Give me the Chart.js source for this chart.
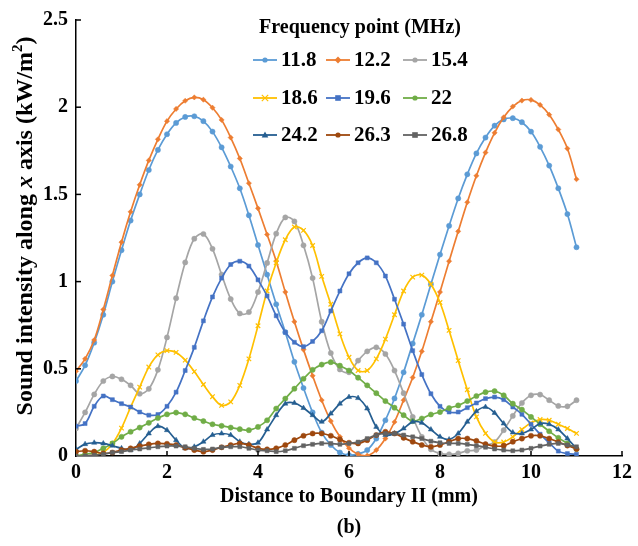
<!DOCTYPE html>
<html>
<head>
<meta charset="utf-8">
<script src="https://cdn.jsdelivr.net/npm/chart.js@4.4.1/dist/chart.umd.min.js"></script>
<style>
html,body{margin:0;padding:0;background:#fff;}
#wrap{width:638px;height:546px;position:relative;}
</style>
</head>
<body>
<div id="wrap"><canvas id="c" width="638" height="546"></canvas></div>
<script>
// Distance to Boundary II (mm)
const distance = [0,0.2,0.4,0.6,0.8,1,1.2,1.4,1.6,1.8,2,2.2,2.4,2.6,2.8,3,3.2,3.4,3.6,3.8,4,4.2,4.4,4.6,4.8,5,5.2,5.4,5.6,5.8,6,6.2,6.4,6.6,6.8,7,7.2,7.4,7.6,7.8,8,8.2,8.4,8.6,8.8,9,9.2,9.4,9.6,9.8,10,10.2,10.4,10.6,10.8,11];

// Frequency points (MHz)
const frequencies = ["11.8","12.2","15.4","18.6","19.6","22","24.2","26.3","26.8"];

// Sound intensity along x axis (kW/m^2)
const f118 = [0.43,0.52,0.65,0.81,1.00,1.18,1.35,1.50,1.64,1.755,1.845,1.91,1.944,1.948,1.92,1.86,1.77,1.66,1.535,1.38,1.21,1.04,0.87,0.71,0.54,0.39,0.25,0.134,0.063,0.02,0.005,0.012,0.034,0.10,0.205,0.33,0.48,0.645,0.81,0.985,1.155,1.32,1.477,1.615,1.735,1.826,1.894,1.93,1.937,1.914,1.86,1.773,1.665,1.535,1.387,1.197];
const f122 = [0.486,0.557,0.665,0.84,1.035,1.226,1.40,1.555,1.695,1.816,1.92,1.99,2.037,2.056,2.043,1.997,1.927,1.826,1.706,1.564,1.42,1.27,1.117,0.94,0.77,0.61,0.46,0.32,0.20,0.11,0.045,0.01,0.002,0.034,0.10,0.195,0.32,0.45,0.60,0.77,0.94,1.117,1.288,1.455,1.607,1.74,1.853,1.942,2.004,2.038,2.042,2.013,1.957,1.872,1.763,1.587];
const f154 = [0.158,0.25,0.353,0.43,0.456,0.44,0.405,0.357,0.385,0.494,0.68,0.905,1.11,1.246,1.273,1.188,1.04,0.90,0.817,0.825,0.94,1.107,1.275,1.368,1.345,1.208,1.02,0.77,0.59,0.496,0.48,0.547,0.60,0.623,0.585,0.49,0.36,0.224,0.11,0.038,0.015,0.01,0.015,0.03,0.034,0.06,0.08,0.148,0.23,0.304,0.348,0.352,0.32,0.287,0.285,0.32];
const f186 = [0.0,0.0,0.005,0.02,0.07,0.16,0.28,0.395,0.51,0.58,0.604,0.594,0.55,0.484,0.41,0.34,0.29,0.31,0.405,0.557,0.747,0.946,1.108,1.24,1.313,1.294,1.207,1.03,0.87,0.70,0.566,0.49,0.49,0.557,0.67,0.81,0.946,1.026,1.037,0.985,0.88,0.72,0.547,0.38,0.224,0.13,0.08,0.08,0.11,0.152,0.19,0.209,0.205,0.182,0.158,0.13];
const f196 = [0.171,0.186,0.285,0.344,0.323,0.30,0.281,0.252,0.234,0.238,0.285,0.366,0.49,0.623,0.775,0.912,1.02,1.098,1.117,1.089,1.01,0.918,0.804,0.709,0.652,0.627,0.657,0.718,0.832,0.946,1.045,1.108,1.136,1.108,1.032,0.899,0.756,0.604,0.467,0.357,0.285,0.252,0.252,0.277,0.304,0.329,0.338,0.323,0.281,0.239,0.182,0.125,0.076,0.028,0.014,0.01];
const f22  = [0.0,0.01,0.02,0.044,0.072,0.11,0.139,0.163,0.19,0.218,0.239,0.249,0.239,0.218,0.20,0.182,0.173,0.163,0.154,0.148,0.167,0.205,0.272,0.329,0.386,0.443,0.494,0.524,0.538,0.518,0.49,0.449,0.405,0.36,0.315,0.277,0.234,0.2,0.215,0.238,0.252,0.275,0.29,0.315,0.344,0.366,0.372,0.348,0.30,0.266,0.224,0.182,0.142,0.104,0.072,0.04];
const f242 = [0.038,0.068,0.076,0.072,0.059,0.044,0.034,0.072,0.129,0.171,0.148,0.091,0.044,0.053,0.082,0.12,0.129,0.12,0.082,0.068,0.076,0.152,0.234,0.30,0.304,0.275,0.234,0.196,0.243,0.30,0.338,0.332,0.272,0.167,0.12,0.129,0.158,0.196,0.19,0.152,0.11,0.095,0.129,0.196,0.256,0.281,0.247,0.186,0.135,0.129,0.152,0.186,0.182,0.152,0.10,0.044];
const f263 = [0.025,0.03,0.025,0.015,0.02,0.034,0.044,0.057,0.067,0.072,0.07,0.063,0.047,0.034,0.025,0.034,0.05,0.063,0.072,0.063,0.044,0.038,0.044,0.063,0.091,0.116,0.129,0.129,0.116,0.095,0.076,0.072,0.091,0.12,0.139,0.129,0.104,0.082,0.063,0.053,0.063,0.082,0.10,0.10,0.087,0.068,0.057,0.059,0.082,0.10,0.116,0.116,0.10,0.08,0.06,0.04];
const f268 = [0.0,0.0,0.005,0.01,0.02,0.025,0.034,0.04,0.047,0.053,0.057,0.057,0.053,0.044,0.038,0.04,0.05,0.053,0.053,0.044,0.034,0.03,0.025,0.03,0.044,0.059,0.067,0.072,0.072,0.067,0.072,0.08,0.10,0.12,0.129,0.129,0.12,0.11,0.10,0.085,0.076,0.072,0.072,0.067,0.059,0.05,0.04,0.034,0.03,0.034,0.044,0.057,0.067,0.072,0.063,0.053];

const xTicks = [0,2,4,6,8,10,12];
const yTicks = [0,0.5,1,1.5,2,2.5];

const seriesValues = [f118,f122,f154,f186,f196,f22,f242,f263,f268];
const colors = ["#5B9BD5","#ED7D31","#A5A5A5","#FFC000","#4472C4","#70AD47","#255E91","#9E480E","#636363"];
const styles = ["circle","rectRot","circle","crossRot","rect","circle","triangle","circle","rect"];
const radii  = [2.6,2.6,2.6,3.2,2.8,2.6,3.0,2.6,2.8];

const FONT = "'Liberation Serif','Times New Roman',serif";

const datasets = frequencies.map((f,i)=>({
  label: f,
  data: distance.map((x,j)=>({x:x,y:seriesValues[i][j]})),
  borderColor: colors[i],
  backgroundColor: colors[i],
  pointStyle: styles[i],
  pointRadius: radii[i],
  pointBorderWidth: styles[i]==="crossRot"?1.2:0.5,
  pointBorderColor: colors[i],
  pointBackgroundColor: colors[i],
  borderWidth: 1.7,
  tension: 0.35,
  fill: false,
  order: frequencies.length - i
}));

function drawMarker(ctx, style, x, y, r, color){
  ctx.save();
  ctx.fillStyle = color; ctx.strokeStyle = color; ctx.lineWidth = 1.2;
  ctx.beginPath();
  if(style==="circle"){ ctx.arc(x,y,r,0,Math.PI*2); ctx.fill(); }
  else if(style==="rect"){ ctx.fillRect(x-r,y-r,2*r,2*r); }
  else if(style==="rectRot"){ ctx.moveTo(x,y-r*1.3); ctx.lineTo(x+r*1.3,y); ctx.lineTo(x,y+r*1.3); ctx.lineTo(x-r*1.3,y); ctx.closePath(); ctx.fill(); }
  else if(style==="triangle"){ ctx.moveTo(x,y-r*1.2); ctx.lineTo(x+r*1.1,y+r*0.8); ctx.lineTo(x-r*1.1,y+r*0.8); ctx.closePath(); ctx.fill(); }
  else if(style==="crossRot"){ ctx.moveTo(x-r,y-r); ctx.lineTo(x+r,y+r); ctx.moveTo(x+r,y-r); ctx.lineTo(x-r,y+r); ctx.stroke(); }
  ctx.restore();
}

const decorPlugin = {
  id: 'decor',
  afterDraw(chart){
    const ctx = chart.ctx;
    const xs = chart.scales.x, ys = chart.scales.y;
    const area = chart.chartArea;
    ctx.save();
    // inside tick marks
    ctx.strokeStyle = '#000'; ctx.lineWidth = 1.5;
    xTicks.forEach(v=>{ if(v===0) return; const px = xs.getPixelForValue(v); ctx.beginPath(); ctx.moveTo(px, area.bottom); ctx.lineTo(px, area.bottom-5); ctx.stroke(); });
    yTicks.forEach(v=>{ if(v===0) return; const py = ys.getPixelForValue(v); ctx.beginPath(); ctx.moveTo(area.left, py); ctx.lineTo(area.left+5, py); ctx.stroke(); });

    // legend
    ctx.fillStyle = '#000';
    ctx.font = "bold 20px " + FONT;
    ctx.textAlign = 'center'; ctx.textBaseline = 'middle';
    ctx.fillText('Frequency point (MHz)', 360, 28);
    const colX = [253, 326, 403];
    const rowY = [60, 98, 135];
    ctx.font = "bold 21px " + FONT;
    ctx.textAlign = 'left';
    frequencies.forEach((f,i)=>{
      const cx = colX[i%3], cy = rowY[Math.floor(i/3)];
      ctx.strokeStyle = colors[i]; ctx.lineWidth = 1.8;
      ctx.beginPath(); ctx.moveTo(cx, cy); ctx.lineTo(cx+24, cy); ctx.stroke();
      drawMarker(ctx, styles[i], cx+12, cy, radii[i], colors[i]);
      ctx.fillStyle = '#000';
      ctx.fillText(f, cx+28, cy+1);
    });

    // x axis title and caption
    ctx.textAlign = 'center'; ctx.textBaseline = 'middle';
    ctx.font = "bold 20px " + FONT;
    const midX = (area.left + area.right)/2;
    ctx.fillText('Distance to Boundary II (mm)', midX, 497);
    ctx.fillText('(b)', midX, 528);

    // y axis title (rich text)
    const segs = [
      {t:'Sound intensity along ', f:"bold 24px "+FONT, dy:0},
      {t:'x', f:"italic bold 24px "+FONT, dy:0},
      {t:' axis (kW/m', f:"bold 24px "+FONT, dy:0},
      {t:'2', f:"bold 15px "+FONT, dy:-8},
      {t:')', f:"bold 24px "+FONT, dy:0}
    ];
    let total = 0;
    segs.forEach(s=>{ ctx.font = s.f; s.w = ctx.measureText(s.t).width; total += s.w; });
    ctx.translate(26, 226);
    ctx.rotate(-Math.PI/2);
    ctx.textAlign = 'left'; ctx.textBaseline = 'middle';
    let pos = -total/2;
    segs.forEach(s=>{ ctx.font = s.f; ctx.fillText(s.t, pos, s.dy); pos += s.w; });
    ctx.restore();
  }
};

new Chart(document.getElementById('c'), {
  type: 'line',
  data: { datasets: datasets },
  options: {
    responsive: false,
    animation: false,
    devicePixelRatio: 1,
    layout: { padding: { top: 17, right: 16, left: 0, bottom: 0 } },
    plugins: { legend: { display: false }, tooltip: { enabled: false } },
    scales: {
      x: {
        type: 'linear', min: 0, max: 12,
        afterFit(scale){ scale.height = 90; },
        afterBuildTicks(scale){ scale.ticks = xTicks.map(v=>({value:v})); },
        ticks: { color: '#000', font: { family: FONT, size: 20, weight: 'bold' }, padding: 5, maxRotation: 0, callback: v => String(v) },
        grid: { display: false, drawTicks: false },
        border: { display: true, color: '#000', width: 1.5 }
      },
      y: {
        type: 'linear', min: 0, max: 2.5,
        afterFit(scale){ scale.width = 76; },
        afterBuildTicks(scale){ scale.ticks = yTicks.map(v=>({value:v})); },
        ticks: { color: '#000', font: { family: FONT, size: 20, weight: 'bold' }, padding: 8, callback: v => String(v) },
        grid: { display: false, drawTicks: false },
        border: { display: true, color: '#000', width: 1.5 }
      }
    }
  },
  plugins: [decorPlugin]
});
</script>
</body>
</html>
